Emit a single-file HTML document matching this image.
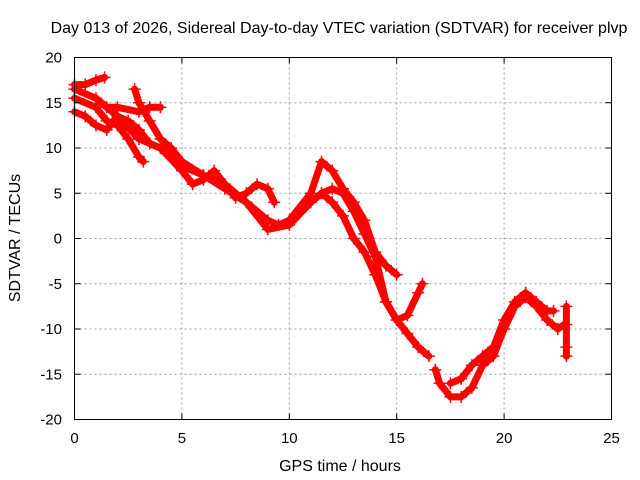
<!DOCTYPE html>
<html><head><meta charset="utf-8"><style>
body{margin:0;background:#fff}
svg{display:block;font-family:"Liberation Sans",sans-serif}
</style></head><body>
<svg id="chart" width="640" height="480" viewBox="0 0 640 480">
<rect width="640" height="480" fill="#fff"/>
<g id="grid"></g>
<g id="series"></g>
<rect x="74.5" y="57.5" width="537" height="362" fill="none" stroke="#000" stroke-width="1"/>
<g id="ticks"></g>
<text x="339" y="33" font-size="16" text-anchor="middle">Day 013 of 2026, Sidereal Day-to-day VTEC variation (SDTVAR) for receiver plvp</text>
<text x="340" y="471" font-size="16" text-anchor="middle">GPS time / hours</text>
<text transform="translate(20,238) rotate(-90)" font-size="16" text-anchor="middle">SDTVAR / TECUs</text>
</svg>
<script>
const xTicks=[0,5,10,15,20,25];
const yTicks=[20,15,10,5,0,-5,-10,-15,-20];
const track1=[[0,16.5],[1,15.5],[2,13.5],[3,11],[4,10],[5,8],[6,7],[7,6],[8,4],[9,2],[9.5,1.5],[10,2],[11,5],[11.5,8.5],[12,7.5],[12.5,5.5],[13,4],[13.5,2],[14,-1.5],[14.5,-3],[15,-4]];
const track2=[[0,14],[0.5,13.5],[1,12.5],[1.5,12],[2,13.5],[2.5,13],[3,12],[3.5,10.5],[4,10],[5,7.5],[5.5,6],[6,6.5],[6.5,7.5],[7,6],[7.5,4.5],[8,5],[8.5,6],[9,5.5],[9.3,4]];
const track3=[[2.8,16.5],[3,15],[3.5,13],[4,11],[4.5,10],[5,8.5],[6,7],[7,5.5],[8,4],[9,1],[10,1.5],[11,4],[11.5,5],[12,5.5],[12.5,5],[13,3],[13.5,0.5],[14,-2],[14.5,-7],[15,-9],[15.5,-8.5],[16,-6],[16.2,-5]];
const track4=[[1.5,14.5],[2,14.5],[3,14],[3.5,14.5],[4,14.5]];
const track5=[[10.5,3],[11,4],[11.5,5],[12,4],[12.5,2.5],[13,0],[13.5,-1.5],[14,-4],[14.5,-7],[15,-9],[15.5,-10.5],[16,-12],[16.5,-13]];
const track6=[[16.8,-14.5],[17,-16],[17.5,-17.5],[18,-17.5],[18.5,-16.5],[19,-14],[19.5,-13],[20,-10],[20.5,-7.5],[21,-6.5],[21.5,-7.5],[22,-9],[22.5,-10],[22.8,-9.5]];
const track7=[[17.5,-16],[18,-15.5],[18.5,-14],[19,-13],[19.5,-12],[20,-9],[20.5,-7],[21,-6],[21.5,-7],[22,-8],[22.3,-8]];
const track8=[[22.9,-7.5],[22.9,-9.5],[22.9,-12],[22.9,-13]];
const track9=[[0,17],[0.5,17],[1,17.5],[1.4,17.8]];
const track10=[[0,15.5],[1,14.5],[1.5,13],[2,12.5],[2.5,11],[3,9],[3.2,8.5]];
const tracks=[track1,track2,track3,track4,track5,track6,track7,track8,track9,track10];
const X0=74.5,X1=611.5,Y0=419.5,Y1=57.5;
const sx=v=>X0+(v-0)/(25-0)*(X1-X0);
const sy=v=>Y0-(v+20)/(40)*(Y0-Y1);
const NS='http://www.w3.org/2000/svg';
const grid=document.getElementById('grid'),ticks=document.getElementById('ticks'),ser=document.getElementById('series');
function mk(tag,attrs,parent){const e=document.createElementNS(NS,tag);for(const k in attrs)e.setAttribute(k,attrs[k]);parent.appendChild(e);return e;}
xTicks.forEach(t=>{const x=sx(t);
 if(t>0&&t<25){const g=mk('line',{x1:x,x2:x,y1:Y1,y2:Y0,stroke:'#a0a0a0','stroke-dasharray':'2,3'},grid);}
 mk('line',{x1:x,x2:x,y1:Y0,y2:Y0-6,stroke:'#000'},ticks);mk('line',{x1:x,x2:x,y1:Y1,y2:Y1+6,stroke:'#000'},ticks);
 const l=mk('text',{x:x,y:443,'font-size':15,'text-anchor':'middle'},ticks);l.textContent=t;
 });
yTicks.forEach(t=>{const y=sy(t);
 if(t>-20&&t<20){const g=mk('line',{x1:X0,x2:X1,y1:y,y2:y,stroke:'#a0a0a0','stroke-dasharray':'2,3'},grid);}
 mk('line',{x1:X0,x2:X0+6,y1:y,y2:y,stroke:'#000'},ticks);mk('line',{x1:X1,x2:X1-6,y1:y,y2:y,stroke:'#000'},ticks);
 const l=mk('text',{x:62,y:y+5,'font-size':15,'text-anchor':'end'},ticks);l.textContent=t;
 });
tracks.forEach((tr,i)=>{
 const p=mk('polyline',{points:tr.map(d=>sx(d[0])+','+sy(d[1])).join(' '),fill:'none',stroke:'#f00','stroke-width':7,'stroke-linejoin':'round','stroke-linecap':'round'},ser);
 
 
 tr.forEach(d=>{const x=sx(d[0]),y=sy(d[1]);
  const m=mk('path',{d:`M${x-6},${y}H${x+6}M${x},${y-6}V${y+6}`,stroke:'#f00','stroke-width':1.5},ser);
  
  });
});
</script>
</body></html>
